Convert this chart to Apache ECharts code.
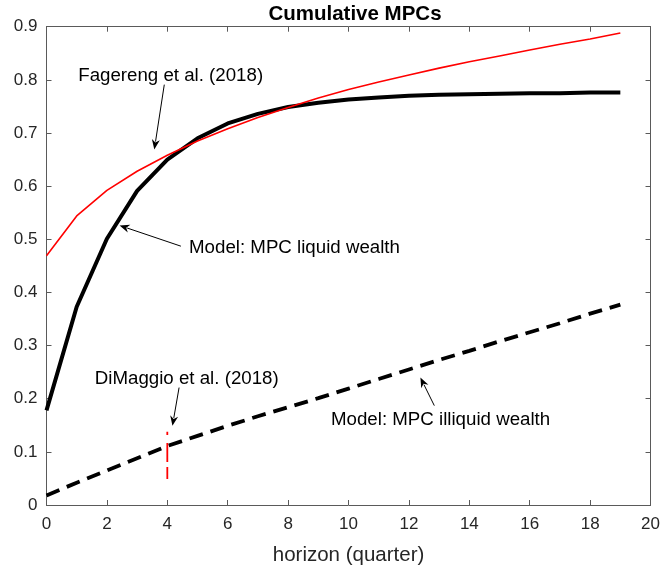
<!DOCTYPE html>
<html>
<head>
<meta charset="utf-8">
<script src="https://cdn.jsdelivr.net/npm/echarts@6/dist/echarts.min.js"></script>
<style>html,body{margin:0;padding:0;background:#fff;}#c{width:663px;height:571px;}</style>
</head>
<body>
<div id="c"></div>
<script>
var horizon = [0,1,2,3,4,5,6,7,8,9,10,11,12,13,14,15,16,17,18,19];
var fagereng = [0.469,0.544,0.592,0.628,0.658,0.685,0.708,0.729,0.748,0.766,0.782,0.796,0.809,0.822,0.834,0.845,0.856,0.867,0.877,0.888];
var liquid = [0.178,0.373,0.501,0.591,0.650,0.690,0.718,0.736,0.749,0.757,0.763,0.767,0.770,0.772,0.773,0.774,0.775,0.775,0.776,0.776];
var illiquid = [0.018,0.042,0.065,0.088,0.111,0.130,0.149,0.167,0.184,0.201,0.219,0.237,0.255,0.273,0.290,0.308,0.325,0.342,0.360,0.377];
var dimaggioX = 4;
var dimaggioRange = [0.049, 0.138];
var xTicks = [0,2,4,6,8,10,12,14,16,18,20];
var yTicks = [0,0.1,0.2,0.3,0.4,0.5,0.6,0.7,0.8,0.9];
// annotations: text anchor (left, middle) and arrow tail -> head, in data coords
var annotations = [
  {text:'Fagereng et al. (2018)', pos:[1.05,0.808], tail:[3.9,0.791], head:[3.57,0.669]},
  {text:'Model: MPC liquid wealth', pos:[4.72,0.484], tail:[4.45,0.487], head:[2.42,0.526]},
  {text:'DiMaggio et al. (2018)', pos:[1.6,0.237], tail:[4.39,0.221], head:[4.17,0.149]},
  {text:'Model: MPC illiquid wealth', pos:[9.42,0.160], tail:[12.84,0.187], head:[12.38,0.240]}
];

function zip(xs, ys){ return xs.map(function(x,i){ return [x, ys[i]]; }); }

var axisColor = '#5a5a5a';
var textColor = '#262626';
var fontFam = '"Liberation Sans", Arial, Helvetica, sans-serif';

var chart = echarts.init(document.getElementById('c'), null, {renderer:'canvas'});
var option = {
  animation:false,
  backgroundColor:'#fff',
  title:{text:'Cumulative MPCs', left:350, top:-1, textAlign:'center',
    textStyle:{fontFamily:fontFam, fontWeight:'bold', fontSize:20.5, color:'#000'}},
  grid:{left:46.5, right:8.7, top:26.7, bottom:65, containLabel:false},
  xAxis:[{
    type:'value', min:0, max:20, interval:2, position:'bottom',
    name:'horizon (quarter)', nameLocation:'middle', nameGap:40,
    nameTextStyle:{fontFamily:fontFam, fontSize:20.5, color:textColor},
    axisLine:{show:true, onZero:false, lineStyle:{color:axisColor, width:1}},
    axisTick:{show:true, inside:true, length:5, lineStyle:{color:axisColor}},
    axisLabel:{fontFamily:fontFam, fontSize:17, color:textColor, margin:11},
    splitLine:{show:false}
  },{
    type:'value', min:0, max:20, interval:2, position:'top',
    axisLine:{show:true, onZero:false, lineStyle:{color:axisColor, width:1}},
    axisTick:{show:true, inside:true, length:5, lineStyle:{color:axisColor}},
    axisLabel:{show:false}, splitLine:{show:false}
  }],
  yAxis:[{
    type:'value', min:0, max:0.9, interval:0.1, position:'left',
    axisLine:{show:true, onZero:false, lineStyle:{color:axisColor, width:1}},
    axisTick:{show:true, inside:true, length:5, lineStyle:{color:axisColor}},
    axisLabel:{fontFamily:fontFam, fontSize:17, color:textColor, margin:9,
      formatter:function(v){ return String(Math.round(v*10)/10); }},
    splitLine:{show:false}
  },{
    type:'value', min:0, max:0.9, interval:0.1, position:'right',
    axisLine:{show:true, onZero:false, lineStyle:{color:axisColor, width:1}},
    axisTick:{show:true, inside:true, length:5, lineStyle:{color:axisColor}},
    axisLabel:{show:false}, splitLine:{show:false}
  }],
  series:[
    {type:'line', name:'Fagereng', data:zip(horizon, fagereng), showSymbol:false, symbol:'none',
      lineStyle:{color:'#ff0000', width:1.6}, z:3},
    {type:'line', name:'liquid', data:zip(horizon, liquid), showSymbol:false, symbol:'none',
      lineStyle:{color:'#000', width:4}, z:2},
    {type:'line', name:'illiquid', data:zip(horizon, illiquid), showSymbol:false, symbol:'none',
      lineStyle:{color:'#000', width:3.8, type:[14,8]}, z:2},
    {type:'line', name:'DiMaggio', data:[[dimaggioX, dimaggioRange[0]],[dimaggioX, dimaggioRange[1]]],
      showSymbol:false, symbol:'none', lineStyle:{color:'#ff0000', width:1.8, type:[12,5,19,8,3,0]}, z:4}
  ]
};
chart.setOption(option);

function drawAnnotations(){
  var els = [];
  annotations.forEach(function(a){
    var p = chart.convertToPixel({xAxisIndex:0, yAxisIndex:0}, a.pos);
    var t = chart.convertToPixel({xAxisIndex:0, yAxisIndex:0}, a.tail);
    var h = chart.convertToPixel({xAxisIndex:0, yAxisIndex:0}, a.head);
    els.push({type:'text', x:p[0], y:p[1], z:10,
      style:{text:a.text, fontFamily:fontFam, fontSize:18.7, fill:'#000', textAlign:'left', textVerticalAlign:'middle'}});
    var dx = h[0]-t[0], dy = h[1]-t[1];
    var L = Math.sqrt(dx*dx+dy*dy), ux = dx/L, uy = dy/L;
    var hl = 10, hw = 4;
    var bx = h[0]-ux*hl, by = h[1]-uy*hl;
    els.push({type:'line', z:10, shape:{x1:t[0], y1:t[1], x2:bx+ux*2, y2:by+uy*2},
      style:{stroke:'#000', lineWidth:1}});
    els.push({type:'polygon', z:10, shape:{points:[[h[0],h[1]],[bx-uy*hw, by+ux*hw],[h[0]-ux*hl*0.7, h[1]-uy*hl*0.7],[bx+uy*hw, by-ux*hw]]},
      style:{fill:'#000'}});
  });
  chart.setOption({graphic:{elements:els}});
}
drawAnnotations();
</script>
</body>
</html>
